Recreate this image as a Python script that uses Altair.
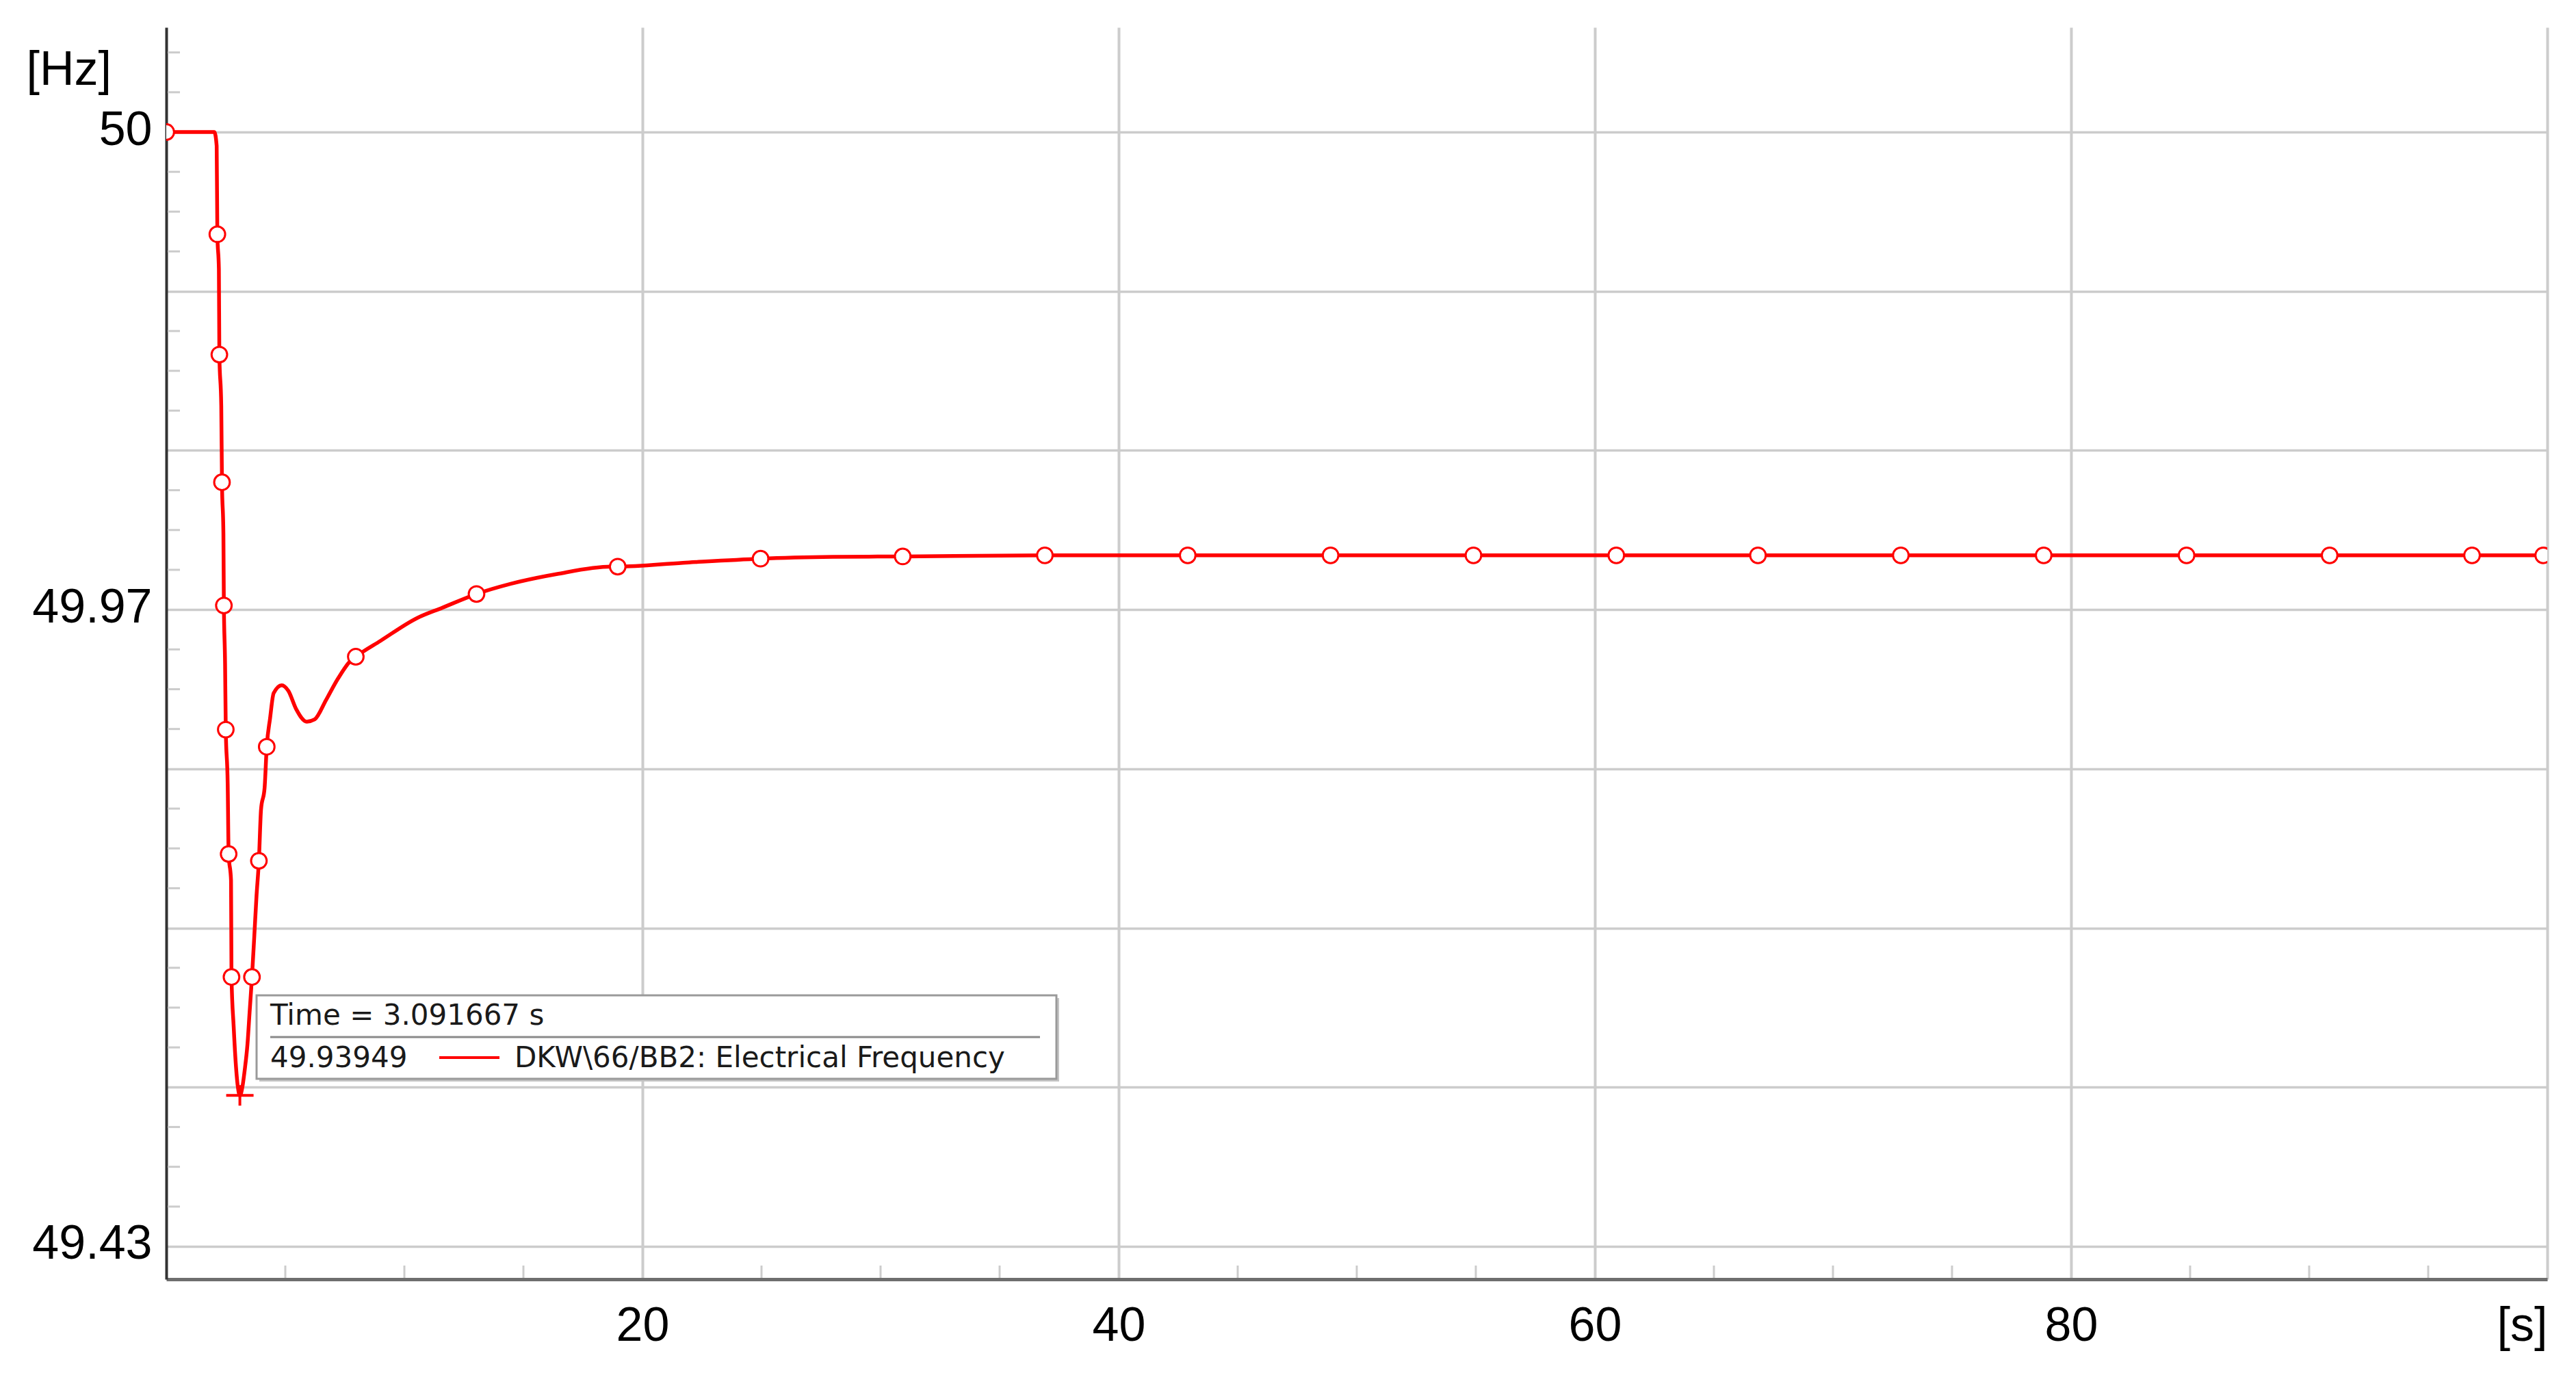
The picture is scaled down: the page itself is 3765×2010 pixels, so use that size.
import altair as alt
import pandas as pd

# ---------------- data ----------------
time_s = [0, 2.02, 2.117, 2.146, 2.21, 2.23, 2.31, 2.34, 2.40, 2.42, 2.47, 2.50, 2.58, 2.62,
          2.72, 2.74, 2.83, 2.93, 3.091667, 3.31, 3.41, 3.50, 3.60, 3.70, 3.79, 3.89, 3.98,
          4.13, 4.22, 4.36, 4.51, 4.85, 5.13, 5.46, 5.90, 6.23, 6.71, 7.19, 7.72, 7.96, 9.0,
          10.55, 11.6, 13.03, 14.47, 16.39, 18.69, 18.96, 21.7, 24.96, 28.0, 30.93, 36.9, 100]
freq_hz = [50.0, 50.0, 49.99913, 49.99358, 49.99139, 49.98602, 49.9828, 49.978, 49.97478,
           49.97026, 49.96661, 49.96246, 49.95902, 49.95465, 49.953, 49.94692, 49.94384,
           49.94126, 49.93949, 49.94126, 49.94269, 49.9447, 49.94692, 49.94956, 49.952,
           49.95422, 49.95744, 49.9588, 49.96138, 49.96317, 49.96475, 49.96525, 49.96489,
           49.96374, 49.96296, 49.9631, 49.96432, 49.96561, 49.96675, 49.96704, 49.96804,
           49.96948, 49.97012, 49.97098, 49.97162, 49.97223, 49.9727, 49.9727, 49.97294,
           49.9732, 49.97331, 49.97334, 49.97341, 49.97341]

marker_t = [0, 2.146, 2.23, 2.34, 2.42, 2.50, 2.62, 2.74, 3.60, 3.89, 4.22, 7.96, 13.03,
            18.96, 24.96, 30.93, 36.9, 42.9, 48.9, 54.9, 60.9, 66.85, 72.85, 78.85, 84.85,
            90.86, 96.84, 99.83]
marker_f = [50.0, 49.99358, 49.98602, 49.978, 49.97026, 49.96246, 49.95465, 49.94692,
            49.94692, 49.95422, 49.96138, 49.96704, 49.97098, 49.9727, 49.9732, 49.97334,
            49.97341, 49.97341, 49.97341, 49.97341, 49.97341, 49.97341, 49.97341, 49.97341,
            49.97341, 49.97341, 49.97341, 49.97341]

cursor_t = 3.091667
cursor_f = 49.93949
series_name = "DKW\\66/BB2: Electrical Frequency"

y_tick_values = [49.93, 49.94, 49.95, 49.96, 49.97, 49.98, 49.99, 50.0]
y_tick_labels = ["49.43", "", "", "", "49.97", "", "", "50"]
x_tick_values = [20, 40, 60, 80, 100]
x_tick_labels = ["20", "40", "60", "80", "[s]"]

y_minor = [49.9325, 49.935, 49.9375, 49.9425, 49.945, 49.9475, 49.9525, 49.955, 49.9575,
           49.9625, 49.965, 49.9675, 49.9725, 49.975, 49.9775, 49.9825, 49.985, 49.9875,
           49.9925, 49.995, 49.9975, 50.0025, 50.005]
x_minor = [5, 10, 15, 25, 30, 35, 45, 50, 55, 65, 70, 75, 85, 90, 95]

# ---------------- layout / style ----------------
W, H = 3480, 1830
FONT = "Liberation Sans"
RED = "#ff0000"
GRID = "#cccccc"


def label_expr(values, labels, default):
    expr = default
    for v, l in reversed(list(zip(values, labels))):
        expr = f"abs(datum.value - {v}) < 1e-6 ? '{l}' : ({expr})"
    return expr


xscale = alt.Scale(domain=[0, 100], nice=False, zero=False)
yscale = alt.Scale(domain=[49.927937, 50.006575], nice=False, zero=False)

xaxis = alt.Axis(values=x_tick_values, labelExpr=label_expr(x_tick_values, x_tick_labels, "''"),
                 grid=True, gridColor=GRID, gridWidth=4, ticks=False, tickSize=0,
                 domain=True, domainColor="#6e6e6e", domainWidth=5,
                 labelFont=FONT, labelFontSize=70, labelColor="black", labelPadding=34,
                 labelFlush=True, labelOverlap=False, title=None)
yaxis = alt.Axis(values=y_tick_values, labelExpr=label_expr(y_tick_values, y_tick_labels, "''"),
                 grid=True, gridColor=GRID, gridWidth=3.5, ticks=False, tickSize=0,
                 domain=True, domainColor="#333333", domainWidth=4,
                 labelFont=FONT, labelFontSize=70, labelColor="black", labelPadding=21,
                 labelOverlap=False, labelFlush=False, labelOffset=-3,
                 title="[Hz]", titleAngle=0, titleFont=FONT, titleFontSize=70,
                 titleFontWeight="normal", titleColor="black", titleAlign="left",
                 titleBaseline="alphabetic", titleX=-205, titleY=83)

X = alt.X("t:Q", scale=xscale, axis=xaxis)
Y = alt.Y("f:Q", scale=yscale, axis=yaxis)

df_line = pd.DataFrame({"t": time_s, "f": freq_hz})
df_mark = pd.DataFrame({"t": marker_t, "f": marker_f})
df_cur = pd.DataFrame({"t": [cursor_t], "f": [cursor_f]})
df_ym = pd.DataFrame({"f": y_minor})
df_xm = pd.DataFrame({"t": x_minor})
one = pd.DataFrame({"a": [0]})

line = alt.Chart(df_line).mark_line(color=RED, strokeWidth=5.5, clip=True,
                                    interpolate="monotone").encode(x=X, y=Y)

ymin = alt.Chart(df_ym).mark_rule(color=GRID, strokeWidth=3).encode(
    y=Y, x=alt.value(2), x2=alt.value(20))
xmin = alt.Chart(df_xm).mark_rule(color=GRID, strokeWidth=3).encode(
    x=X, y=alt.value(H - 20), y2=alt.value(H - 2))

points = alt.Chart(df_mark).mark_point(shape="circle", filled=True, fill="white", stroke=RED,
                                       strokeWidth=3, size=520, opacity=1, clip=True).encode(
    x=X, y=Y)

cross = alt.Chart(df_cur).mark_point(shape="M-1,0L1,0M0,-0.75L0,0.75", filled=False,
                                     stroke=RED, strokeWidth=4, size=1600, opacity=1).encode(
    x=X, y=Y)

# cursor read-out box (annotation)
BX0, BX1, BY0, BY1 = 132, 1301, 1415, 1537
shadow = alt.Chart(one).mark_rect(fill="#c4c4c4").encode(
    x=alt.value(BX0 + 4), x2=alt.value(BX1 + 4), y=alt.value(BY0 + 4), y2=alt.value(BY1 + 4))
box = alt.Chart(one).mark_rect(fill="white", stroke="#9a9a9a", strokeWidth=3).encode(
    x=alt.value(BX0), x2=alt.value(BX1), y=alt.value(BY0), y2=alt.value(BY1))
divider = alt.Chart(one).mark_rule(color="#8a8a8a", strokeWidth=3).encode(
    x=alt.value(152), x2=alt.value(1277), y=alt.value(1476))
swatch = alt.Chart(one).mark_rule(color=RED, strokeWidth=4).encode(
    x=alt.value(399), x2=alt.value(487), y=alt.value(1506))

txt_style = dict(align="left", baseline="alphabetic", font="DejaVu Sans", fontSize=42,
                 color="#1a1a1a")
t1 = alt.Chart(pd.DataFrame({"s": [f"Time = {cursor_t:.6f} s"]})).mark_text(**txt_style).encode(
    x=alt.value(152), y=alt.value(1458), text="s:N")
t2 = alt.Chart(pd.DataFrame({"s": [f"{cursor_f:.5f}"]})).mark_text(**txt_style).encode(
    x=alt.value(152), y=alt.value(1520), text="s:N")
t3 = alt.Chart(pd.DataFrame({"s": [series_name]})).mark_text(**txt_style).encode(
    x=alt.value(509), y=alt.value(1520), text="s:N")

chart = alt.layer(
    line, ymin, xmin, points, cross, shadow, box, divider, swatch, t1, t2, t3
).properties(
    width=W, height=H,
    autosize=alt.AutoSizeParams(type="none"),
    padding={"left": 235, "top": 32, "right": 30, "bottom": 120},
    background="white",
).configure_view(stroke=None)

chart.save("out.html", embed_options={"renderer": "svg", "actions": False})
